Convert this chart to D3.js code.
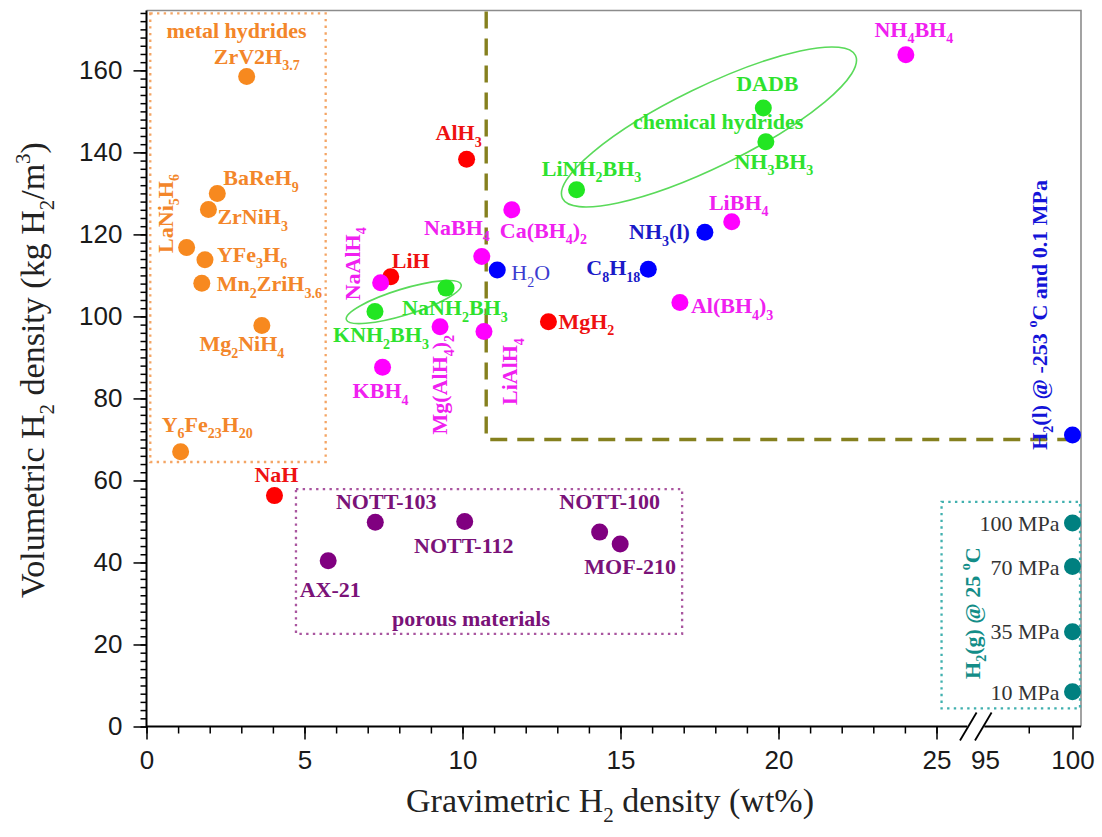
<!DOCTYPE html>
<html>
<head>
<meta charset="utf-8">
<script src="https://cdn.jsdelivr.net/npm/d3@7"></script>
<style>
  body { margin: 0; background: #fff; }
  svg { display: block; }
</style>
</head>
<body>
<svg id="chart" width="1102" height="837"></svg>
<script>
// ---- Hydrogen storage materials: gravimetric (wt%) vs volumetric (kg H2/m3) ----
const materials = [
  "ZrV2H_{3.7}", "BaReH_{9}", "ZrNiH_{3}", "LaNi_{5}H_{6}", "YFe_{3}H_{6}", "Mn_{2}ZriH_{3.6}", "Mg_{2}NiH_{4}", "Y_{6}Fe_{23}H_{20}",
  "AlH_{3}", "LiH", "NaH", "MgH_{2}",
  "NH_{4}BH_{4}", "LiBH_{4}", "Al(BH_{4})_{3}", "Ca(BH_{4})_{2}", "NaBH_{4}", "NaAlH_{4}", "KBH_{4}", "Mg(AlH_{4})_{2}", "LiAlH_{4}",
  "DADB", "NH_{3}BH_{3}", "LiNH_{2}BH_{3}", "NaNH_{2}BH_{3}", "KNH_{2}BH_{3}",
  "NH_{3}(l)", "C_{8}H_{18}", "H_{2}O", "H_{2}(l)",
  "NOTT-103", "NOTT-112", "AX-21", "NOTT-100", "MOF-210",
  "100 MPa", "70 MPa", "35 MPa", "10 MPa"
];
const gravimetric = [
  3.17, 2.24, 1.96, 1.27, 1.85, 1.75, 3.65, 1.08,
  10.13, 7.73, 4.05, 12.72,
  24.03, 18.52, 16.88, 11.56, 10.61, 7.41, 7.47, 9.29, 10.68,
  19.52, 19.60, 13.61, 9.48, 7.23,
  17.67, 15.88, 11.10, 100,
  7.24, 10.07, 5.75, 14.34, 14.99,
  100, 100, 100, 100
];
const volumetric = [
  158.5, 130.0, 126.1, 116.8, 113.8, 108.1, 97.8, 67.0,
  138.3, 109.7, 56.3, 98.7,
  163.8, 123.1, 103.4, 126.0, 114.6, 108.2, 87.6, 97.5, 96.3,
  150.8, 142.6, 130.9, 106.9, 101.2,
  120.5, 111.5, 111.3, 71.1,
  49.8, 50.0, 40.4, 47.4, 44.5,
  49.6, 39.0, 23.1, 8.5
];
const family = [
  "metal", "metal", "metal", "metal", "metal", "metal", "metal", "metal",
  "binary", "binary", "binary", "binary",
  "complex", "complex", "complex", "complex", "complex", "complex", "complex", "complex", "complex",
  "chemical", "chemical", "chemical", "chemical", "chemical",
  "liquid", "liquid", "liquid", "liquid",
  "porous", "porous", "porous", "porous", "porous",
  "compressed", "compressed", "compressed", "compressed"
];

// axis ticks
const yTicks = [0, 20, 40, 60, 80, 100, 120, 140, 160];
const xTicksLow = [0, 5, 10, 15, 20, 25];
const xTicksHigh = [95, 100];

// target region drawn with the dashed line
const targetGravimetric = 10.75;
const targetVolumetric = 70;

// group frames [x0, x1, y0, y1] in data units
const groupBoxes = [
  { name: "metal",      x: [0.12, 5.67],    y: [64.5, 173.9] },
  { name: "porous",     x: [4.73, 16.95],   y: [22.6, 57.9] },
  { name: "compressed", x: [25.16, 100.43], y: [4.4, 54.8] }
];

// ---- styling ----
const dotColor = {
  metal: "#f7891f", binary: "#ff0000", complex: "#ff00ff", chemical: "#22e622",
  liquid: "#0000ff", porous: "#800080", compressed: "#008080"
};
const textColor = {
  metal: "#f3862a", binary: "#ee1111", complex: "#f020f0", chemical: "#2ee22e",
  liquid: "#1a1ac8", porous: "#7a1278", compressed: "#333333"
};
const boxColor = { metal: "#f4a564", porous: "#a9559f", compressed: "#40b0ae" };

// label placement relative to each dot (pixels)
const labelPlacement = {
  "ZrV2H_{3.7}": { dx: 10, dy: -13, a: "middle" },
  "BaReH_{9}": { dx: 6, dy: -8, a: "start" },
  "ZrNiH_{3}": { dx: 9, dy: 15, a: "start" },
  "LaNi_{5}H_{6}": { dx: -14, dy: -34, a: "middle", rot: true },
  "YFe_{3}H_{6}": { dx: 12, dy: 2, a: "start" },
  "Mn_{2}ZriH_{3.6}": { dx: 15, dy: 8, a: "start" },
  "Mg_{2}NiH_{4}": { dx: -20, dy: 26, a: "middle" },
  "Y_{6}Fe_{23}H_{20}": { dx: -19, dy: -20, a: "start" },
  "AlH_{3}": { dx: -8, dy: -19, a: "middle" },
  "LiH": { dx: 1, dy: -9, a: "start" },
  "NaH": { dx: 2, dy: -14, a: "middle" },
  "MgH_{2}": { dx: 10, dy: 7, a: "start" },
  "NH_{4}BH_{4}": { dx: 8, dy: -18, a: "middle" },
  "LiBH_{4}": { dx: 7, dy: -12, a: "middle" },
  "Al(BH_{4})_{3}": { dx: 11, dy: 11, a: "start" },
  "Ca(BH_{4})_{2}": { dx: -12, dy: 28, a: "start" },
  "NaBH_{4}": { dx: 8, dy: -22, a: "end" },
  "NaAlH_{4}": { dx: -21, dy: -19, a: "middle", rot: true },
  "KBH_{4}": { dx: -2, dy: 31, a: "middle" },
  "Mg(AlH_{4})_{2}": { dx: 7, dy: 58, a: "middle", rot: true },
  "LiAlH_{4}": { dx: 33, dy: 40, a: "middle", rot: true },
  "DADB": { dx: 4, dy: -17, a: "middle" },
  "NH_{3}BH_{3}": { dx: 8, dy: 27, a: "middle" },
  "LiNH_{2}BH_{3}": { dx: 15, dy: -14, a: "middle" },
  "NaNH_{2}BH_{3}": { dx: -44, dy: 27, a: "start" },
  "KNH_{2}BH_{3}": { dx: 6, dy: 31, a: "middle" },
  "NH_{3}(l)": { dx: -15, dy: 7, a: "end" },
  "C_{8}H_{18}": { dx: -8, dy: 6, a: "end" },
  "H_{2}O": { dx: 14, dy: 10, a: "start", weight: "normal", color: "#3c3cd0" },
  "H_{2}(l)": { dx: -26, dy: -120, a: "middle", rot: true, color: "#1414d8",
                text: "H_{2}(l) @ -253 ^{o}C and 0.1 MPa" },
  "NOTT-103": { dx: 11, dy: -13, a: "middle" },
  "NOTT-112": { dx: -1, dy: 32, a: "middle" },
  "AX-21": { dx: 2, dy: 36, a: "middle" },
  "NOTT-100": { dx: 10, dy: -23, a: "middle" },
  "MOF-210": { dx: 10, dy: 30, a: "middle" },
  "100 MPa": { dx: -13, dy: 8, a: "end", weight: "normal" },
  "70 MPa": { dx: -13, dy: 8, a: "end", weight: "normal" },
  "35 MPa": { dx: -13, dy: 7, a: "end", weight: "normal" },
  "10 MPa": { dx: -13, dy: 8, a: "end", weight: "normal" }
};

// ---- scales (broken x axis: 0–26 and 95–100) ----
const plot = { left: 146.5, right: 1081, top: 10.5, bottom: 726.5 };
const yScale = d3.scaleLinear().domain([0, 174.6]).range([plot.bottom, plot.top]);
const xLow = d3.scaleLinear().domain([0, 26]).range([plot.left, plot.left + 26 * 31.6]);
const xHigh = d3.scaleLinear().domain([95, 100]).range([985, 1072.5]);
const xPos = v => (v >= 90 ? xHigh(v) : xLow(v));

const svg = d3.select("#chart");
const serif = "'Liberation Serif', 'Times New Roman', serif";
const sans = "'Liberation Sans', Arial, sans-serif";

// text with _{sub} and ^{sup} markup
function setRich(textSel, str, size) {
  const small = Math.round(size * 0.62);
  const subShift = size * 0.3, supShift = -size * 0.42;
  const tokens = [];
  str.replace(/([_^])\{([^}]*)\}|([^_^]+)/g, (m, k, inner, plain) => {
    if (plain !== undefined) tokens.push({ t: plain, s: 0 });
    else tokens.push({ t: inner, s: k === "_" ? subShift : supShift });
    return m;
  });
  let cur = 0;
  tokens.forEach(tk => {
    const ts = textSel.append("tspan").text(tk.t).attr("dy", (tk.s - cur).toFixed(2));
    if (tk.s !== 0) ts.style("font-size", small + "px");
    cur = tk.s;
  });
}

// ---- frame ----
svg.append("path")
  .attr("d", `M${plot.left},${plot.top}H${plot.right}V${plot.bottom}`)
  .attr("fill", "none").attr("stroke", "#8c8c8c").attr("stroke-width", 1.6);

// ---- group boxes (dotted) ----
groupBoxes.forEach(b => {
  const x0 = xPos(b.x[0]), x1 = xPos(b.x[1]);
  const y0 = yScale(b.y[1]), y1 = yScale(b.y[0]);
  svg.append("rect")
    .attr("x", x0).attr("y", y0).attr("width", x1 - x0).attr("height", y1 - y0)
    .attr("fill", "none").attr("stroke", boxColor[b.name])
    .attr("stroke-width", 2.3).attr("stroke-dasharray", "2.4,4.3");
});

// ---- target region dashed line ----
svg.append("path")
  .attr("d", `M${xPos(targetGravimetric)},${plot.top + 1}` +
             `V${yScale(targetVolumetric)}H${plot.right - 2}`)
  .attr("fill", "none").attr("stroke", "#85801e")
  .attr("stroke-width", 3.4).attr("stroke-dasharray", "17,10");

// ---- chemical-hydride ellipses ----
const ellipses = [
  { cx: 17.80, cy: 146.2, rx: 163, ry: 40, angle: -26 },
  { cx: 8.14, cy: 103.5, rx: 60, ry: 13, angle: -17 }
];
ellipses.forEach(e => {
  svg.append("ellipse")
    .attr("transform", `translate(${xPos(e.cx)},${yScale(e.cy)}) rotate(${e.angle})`)
    .attr("rx", e.rx).attr("ry", e.ry)
    .attr("fill", "none").attr("stroke", "#5ada5a").attr("stroke-width", 1.6);
});

// ---- axes ----
const axisStyle = g => {
  g.select(".domain").remove();
  g.selectAll("line").attr("stroke", "#000").attr("stroke-width", 1.5);
  g.selectAll("text").attr("fill", "#1a1a1a").style("font-family", sans).style("font-size", "26px");
};

// y axis
svg.append("g").attr("transform", `translate(${plot.left},0)`)
  .call(d3.axisLeft(yScale).tickValues(d3.range(0, 175, 2)).tickSize(6).tickFormat(""))
  .call(axisStyle);
svg.append("g").attr("transform", `translate(${plot.left},0)`)
  .call(d3.axisLeft(yScale).tickValues(yTicks).tickSize(13).tickPadding(11).tickFormat(d3.format("d")))
  .call(axisStyle);

// x axis, lower segment
svg.append("g").attr("transform", `translate(0,${plot.bottom})`)
  .call(d3.axisBottom(xLow).tickValues(d3.range(0, 26, 1)).tickSize(7).tickFormat(""))
  .call(axisStyle);
svg.append("g").attr("transform", `translate(0,${plot.bottom})`)
  .call(d3.axisBottom(xLow).tickValues(xTicksLow).tickSize(13).tickPadding(11).tickFormat(d3.format("d")))
  .call(axisStyle);

// x axis, upper segment
svg.append("g").attr("transform", `translate(0,${plot.bottom})`)
  .call(d3.axisBottom(xHigh).tickValues([97.5]).tickSize(7).tickFormat(""))
  .call(axisStyle);
const hiAxis = svg.append("g").attr("transform", `translate(0,${plot.bottom})`)
  .call(d3.axisBottom(xHigh).tickValues(xTicksHigh).tickSize(13).tickPadding(11).tickFormat(d3.format("d")))
  .call(axisStyle);
hiAxis.selectAll(".tick").filter(d => d === 95).select("line").remove();

// axis lines with break marks
const breakA = 968.3, breakB = 983.3;
svg.append("path")
  .attr("d", `M${plot.left},${plot.top}V${plot.bottom}H${breakA - 1}M${breakB + 1},${plot.bottom}H${plot.right}`)
  .attr("fill", "none").attr("stroke", "#000").attr("stroke-width", 2);
[breakA, breakB].forEach(bx => {
  svg.append("line")
    .attr("x1", bx - 8.3).attr("y1", plot.bottom + 14)
    .attr("x2", bx + 8.3).attr("y2", plot.bottom - 14)
    .attr("stroke", "#000").attr("stroke-width", 1.8);
});

// axis titles
const xTitle = svg.append("text")
  .attr("x", 610).attr("y", 812).attr("text-anchor", "middle")
  .style("font-family", serif).style("font-size", "34px").attr("fill", "#222");
setRich(xTitle, "Gravimetric H_{2} density (wt%)", 34);

const yTitle = svg.append("text")
  .attr("transform", "translate(44,370) rotate(-90)").attr("text-anchor", "middle")
  .style("font-family", serif).style("font-size", "34px").attr("fill", "#222");
setRich(yTitle, "Volumetric H_{2} density (kg H_{2}/m^{3})", 34);

// ---- dots ----
const drawOrder = ["metal", "binary", "complex", "chemical", "liquid", "porous", "compressed"];
const idx = d3.range(materials.length)
  .sort((a, b) => drawOrder.indexOf(family[a]) - drawOrder.indexOf(family[b]));

svg.append("g").selectAll("circle").data(idx).join("circle")
  .attr("cx", i => xPos(gravimetric[i]))
  .attr("cy", i => yScale(volumetric[i]))
  .attr("r", 8.5)
  .attr("fill", i => dotColor[family[i]]);

// ---- point labels ----
const labelSize = 22;
idx.forEach(i => {
  const name = materials[i];
  const p = labelPlacement[name];
  const x = xPos(gravimetric[i]) + p.dx;
  const y = yScale(volumetric[i]) + p.dy;
  const t = svg.append("text")
    .attr("transform", p.rot ? `translate(${x},${y}) rotate(-90)` : `translate(${x},${y})`)
    .attr("text-anchor", p.a)
    .style("font-family", serif)
    .style("font-size", labelSize + "px")
    .style("font-weight", p.weight || "bold")
    .attr("fill", p.color || textColor[family[i]]);
  setRich(t, p.text || name, labelSize);
});

// ---- group captions ----
const captions = [
  { text: "metal hydrides", x: 2.85, y: 167.9, color: "#f3862a" },
  { text: "chemical hydrides", x: 18.09, y: 145.7, color: "#2ee22e" },
  { text: "porous materials", x: 10.27, y: 24.6, color: "#7a1278" }
];
captions.forEach(c => {
  svg.append("text")
    .attr("x", xPos(c.x)).attr("y", yScale(c.y)).attr("text-anchor", "middle")
    .style("font-family", serif).style("font-size", labelSize + "px").style("font-weight", "bold")
    .attr("fill", c.color).text(c.text);
});

// compressed-gas caption inside its box
const gasBox = groupBoxes.find(b => b.name === "compressed");
const gasX = xPos(gasBox.x[0]) + 38;
const gasY = (yScale(gasBox.y[0]) + yScale(gasBox.y[1])) / 2 + 8;
const gasCaption = svg.append("text")
  .attr("transform", `translate(${gasX},${gasY}) rotate(-90)`).attr("text-anchor", "middle")
  .style("font-family", serif).style("font-size", "22px").style("font-weight", "bold")
  .attr("fill", "#138d88");
setRich(gasCaption, "H_{2}(g) @ 25 ^{o}C", 22);
</script>
</body>
</html>
